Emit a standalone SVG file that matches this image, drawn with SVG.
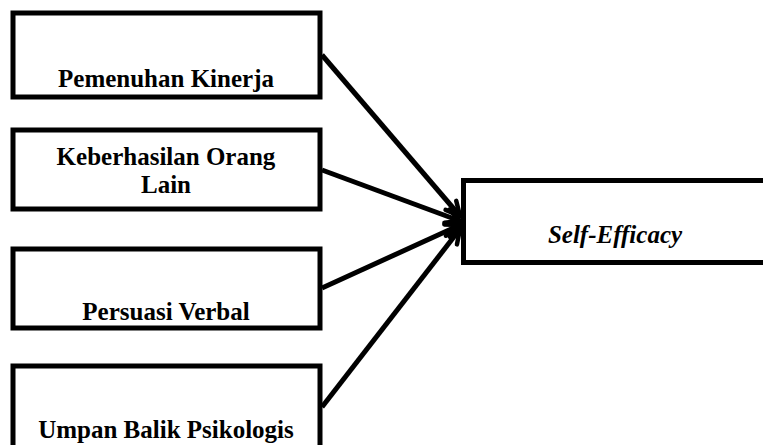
<svg xmlns="http://www.w3.org/2000/svg" width="763" height="445" viewBox="0 0 763 445">
  <defs>
    <style>
      .box { fill: #ffffff; stroke: #000000; stroke-width: 5; }
      .lbl { font-family: "Liberation Serif", "Times New Roman", serif; font-weight: bold; font-size: 25px; fill: #000000; text-anchor: middle; }
      .it { font-style: italic; }
      .conn { stroke: #000000; stroke-width: 5; fill: none; marker-end: url(#arrow); }
    </style>
    <marker id="arrow" viewBox="0 0 20 20" markerWidth="20" markerHeight="20" refX="17" refY="10" markerUnits="userSpaceOnUse" orient="auto">
      <path d="M3,3 L17,10 L3,17" fill="none" stroke="#000000" stroke-width="4.5" stroke-linejoin="miter" stroke-linecap="round"/>
    </marker>
  </defs>
  <rect width="763" height="445" fill="#ffffff"/>
  <g id="connectors">
    <line class="conn" x1="322" y1="55" x2="460" y2="216"/>
    <line class="conn" x1="322" y1="170" x2="460" y2="221"/>
    <line class="conn" x1="322" y1="288" x2="460" y2="225"/>
    <line class="conn" x1="322" y1="407" x2="460" y2="229"/>
  </g>
  <g id="n1">
    <rect class="box" x="13" y="13" width="307" height="84"/>
    <text class="lbl" x="166" y="87">Pemenuhan Kinerja</text>
  </g>
  <g id="n2">
    <rect class="box" x="13" y="130" width="307" height="79"/>
    <text class="lbl" x="166" y="165">Keberhasilan Orang</text>
    <text class="lbl" x="166" y="193">Lain</text>
  </g>
  <g id="n3">
    <rect class="box" x="13" y="249" width="307" height="79"/>
    <text class="lbl" x="166" y="320">Persuasi Verbal</text>
  </g>
  <g id="n4">
    <rect class="box" x="13" y="366" width="307" height="100"/>
    <text class="lbl" x="166" y="438">Umpan Balik Psikologis</text>
  </g>
  <g id="n5">
    <rect class="box" x="463.5" y="180.5" width="320" height="82"/>
    <text class="lbl it" x="615" y="243">Self-Efficacy</text>
  </g>
</svg>
